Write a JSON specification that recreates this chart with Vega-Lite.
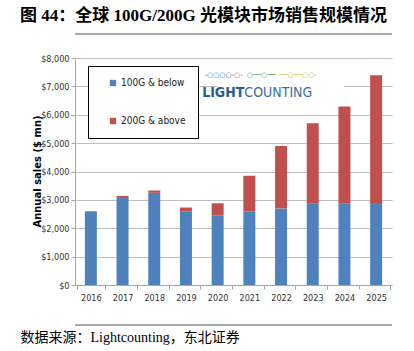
{
  "$schema": "https://vega.github.io/schema/vega-lite/v6.json",
  "autosize": "none",
  "width": 317,
  "height": 227,
  "padding": {"left": 75, "top": 58, "right": 22, "bottom": 66},
  "background": "white",
  "title": {
    "text": "图  44：全球 100G/200G 光模块市场销售规模情况",
    "anchor": "start",
    "frame": "group",
    "dx": -55,
    "offset": 8,
    "font": "Liberation Serif, Noto Sans CJK SC",
    "fontSize": 17,
    "fontWeight": "bold",
    "color": "#000000"
  },
  "config": {
    "view": {"stroke": null},
    "axis": {
      "labelFont": "Liberation Sans Narrow, DejaVu Sans Condensed, sans-serif",
      "labelFontSize": 9,
      "labelColor": "#333333",
      "domainColor": "#a6a6a6",
      "tickColor": "#a6a6a6",
      "gridColor": "#bfbfbf"
    },
    "axisX": {
      "labelAngle": 0,
      "tickBand": "extent",
      "tickSize": 4,
      "labelPadding": 4,
      "grid": false,
      "titleFont": "Liberation Serif, Noto Sans CJK SC",
      "titleFontSize": 14,
      "titleFontWeight": "normal",
      "titleColor": "#000000",
      "titleAnchor": "start",
      "titleAlign": "left",
      "titleBaseline": "middle",
      "titleX": -55,
      "titleY": 52
    },
    "axisY": {
      "grid": true,
      "tickSize": 4,
      "labelPadding": 2,
      "titleFont": "DejaVu Sans, sans-serif",
      "titleFontSize": 10,
      "titleFontWeight": "bold",
      "titleColor": "#000000",
      "titleX": -38,
      "titleY": 113,
      "titleBaseline": "middle",
      "titleAlign": "center"
    }
  },
  "datasets": {
    "sales": [
      {"year": "2016", "type": "100G & below", "value": 2600},
      {"year": "2016", "type": "200G & above", "value": 0},
      {"year": "2017", "type": "100G & below", "value": 3100},
      {"year": "2017", "type": "200G & above", "value": 40},
      {"year": "2018", "type": "100G & below", "value": 3250},
      {"year": "2018", "type": "200G & above", "value": 80},
      {"year": "2019", "type": "100G & below", "value": 2600},
      {"year": "2019", "type": "200G & above", "value": 130},
      {"year": "2020", "type": "100G & below", "value": 2460},
      {"year": "2020", "type": "200G & above", "value": 420},
      {"year": "2021", "type": "100G & below", "value": 2600},
      {"year": "2021", "type": "200G & above", "value": 1250},
      {"year": "2022", "type": "100G & below", "value": 2700},
      {"year": "2022", "type": "200G & above", "value": 2200},
      {"year": "2023", "type": "100G & below", "value": 2860},
      {"year": "2023", "type": "200G & above", "value": 2840},
      {"year": "2024", "type": "100G & below", "value": 2860},
      {"year": "2024", "type": "200G & above", "value": 3430},
      {"year": "2025", "type": "100G & below", "value": 2890},
      {"year": "2025", "type": "200G & above", "value": 4500}
    ],
    "lines": [
      {"pos": 8850, "kind": "head"},
      {"pos": -1410, "kind": "foot"}
    ]
  },
  "resolve": {
    "scale": {"y": "independent", "color": "independent", "strokeWidth": "independent"},
    "axis": {"y": "independent"},
    "legend": {"color": "independent"}
  },
  "layer": [
    {
      "layer": [
        {
          "data": {"name": "sales"},
          "mark": {"type": "bar", "width": {"band": 0.42}},
          "encoding": {
            "x": {
              "field": "year",
              "type": "nominal",
              "sort": null,
              "scale": {"domain": ["2016","2017","2018","2019","2020","2021","2022","2023","2024","2025"], "paddingInner": 0.1, "paddingOuter": 0.05},
              "axis": {"title": "数据来源：Lightcounting，东北证券"}
            },
            "y": {
              "field": "value",
              "type": "quantitative",
              "stack": "zero",
              "scale": {"domain": [0, 8000], "nice": false},
              "axis": {
                "values": [0, 1000, 2000, 3000, 4000, 5000, 6000, 7000, 8000],
                "format": "$,d",
                "title": "Annual sales ($ mn)"
              }
            },
            "color": {
              "field": "type",
              "type": "nominal",
              "scale": {"domain": ["100G & below", "200G & above"], "range": ["#4f81bd", "#c0504d"]},
              "legend": {
                "title": null,
                "orient": "none",
                "legendX": 13,
                "legendY": 8,
                "direction": "vertical",
                "strokeColor": "#000000",
                "fillColor": "white",
                "padding": 12,
                "rowPadding": 28,
                "symbolType": "square",
                "symbolSize": 40,
                "symbolStrokeWidth": 0,
                "symbolOffset": 8,
                "labelOffset": 3,
                "labelFont": "Liberation Sans Narrow, DejaVu Sans Condensed, sans-serif",
                "labelFontSize": 10,
                "labelColor": "#222222"
              }
            },
            "order": {"field": "type", "sort": "ascending"}
          }
        },
        {
          "data": {"values": [{"a": 1}]},
          "mark": {"type": "rect", "color": "white"},
          "encoding": {
            "x": {"datum": "2020", "type": "nominal", "axis": {"title": "数据来源：Lightcounting，东北证券"}},
            "x2": {"datum": "2024"},
            "y": {"datum": 6750, "type": "quantitative", "axis": {"values": [0, 1000, 2000, 3000, 4000, 5000, 6000, 7000, 8000], "format": "$,d", "title": "Annual sales ($ mn)"}},
            "y2": {"datum": 7250}
          }
        },
        {
          "data": {"values": [{"a": 1}]},
          "mark": {"type": "text", "text": "LIGHT", "font": "Liberation Sans Narrow, DejaVu Sans Condensed, sans-serif", "fontSize": 14, "fontWeight": "bold", "color": "#2a5d8f", "align": "right", "dx": -5},
          "encoding": {"x": {"datum": "2021", "type": "nominal", "axis": {"title": "数据来源：Lightcounting，东北证券"}}, "y": {"datum": 6780, "type": "quantitative", "axis": {"values": [0, 1000, 2000, 3000, 4000, 5000, 6000, 7000, 8000], "format": "$,d", "title": "Annual sales ($ mn)"}}}
        },
        {
          "data": {"values": [{"a": 1}]},
          "mark": {"type": "text", "text": "COUNTING", "font": "Liberation Sans Narrow, DejaVu Sans Condensed, sans-serif", "fontSize": 14, "color": "#3a6fa3", "align": "left", "dx": -5},
          "encoding": {"x": {"datum": "2021", "type": "nominal", "axis": {"title": "数据来源：Lightcounting，东北证券"}}, "y": {"datum": 6780, "type": "quantitative", "axis": {"values": [0, 1000, 2000, 3000, 4000, 5000, 6000, 7000, 8000], "format": "$,d", "title": "Annual sales ($ mn)"}}}
        },
        {
          "data": {"values": [{"a": 1}]},
          "mark": {"type": "text", "text": "-○○○○-○-", "font": "DejaVu Sans", "fontSize": 7, "color": "#2f6fa8", "dx": 6},
          "encoding": {"x": {"datum": "2020", "type": "nominal", "axis": {"title": "数据来源：Lightcounting，东北证券"}}, "y": {"datum": 7400, "type": "quantitative", "axis": {"values": [0, 1000, 2000, 3000, 4000, 5000, 6000, 7000, 8000], "format": "$,d", "title": "Annual sales ($ mn)"}}}
        },
        {
          "data": {"values": [{"a": 1}]},
          "mark": {"type": "text", "text": "○──○──", "font": "DejaVu Sans", "fontSize": 7, "color": "#4e9450", "dx": 12},
          "encoding": {"x": {"datum": "2021", "type": "nominal", "axis": {"title": "数据来源：Lightcounting，东北证券"}}, "y": {"datum": 7400, "type": "quantitative", "axis": {"values": [0, 1000, 2000, 3000, 4000, 5000, 6000, 7000, 8000], "format": "$,d", "title": "Annual sales ($ mn)"}}}
        },
        {
          "data": {"values": [{"a": 1}]},
          "mark": {"type": "text", "text": "──○──○○-", "font": "DejaVu Sans", "fontSize": 7, "color": "#c2b81e", "dx": 17},
          "encoding": {"x": {"datum": "2022", "type": "nominal", "axis": {"title": "数据来源：Lightcounting，东北证券"}}, "y": {"datum": 7400, "type": "quantitative", "axis": {"values": [0, 1000, 2000, 3000, 4000, 5000, 6000, 7000, 8000], "format": "$,d", "title": "Annual sales ($ mn)"}}}
        }
      ]
    },
    {
      "data": {"name": "lines"},
      "mark": {"type": "rule", "clip": false},
      "encoding": {
        "y": {"field": "pos", "type": "quantitative", "scale": {"domain": [0, 8000], "nice": false, "zero": false}, "axis": null},
        "color": {"field": "kind", "type": "nominal", "scale": {"domain": ["head", "foot"], "range": ["#8c8c8c", "#555555"]}, "legend": null},
        "strokeWidth": {"field": "kind", "type": "nominal", "scale": {"domain": ["head", "foot"], "range": [1.5, 1]}, "legend": null}
      }
    }
  ]
}
